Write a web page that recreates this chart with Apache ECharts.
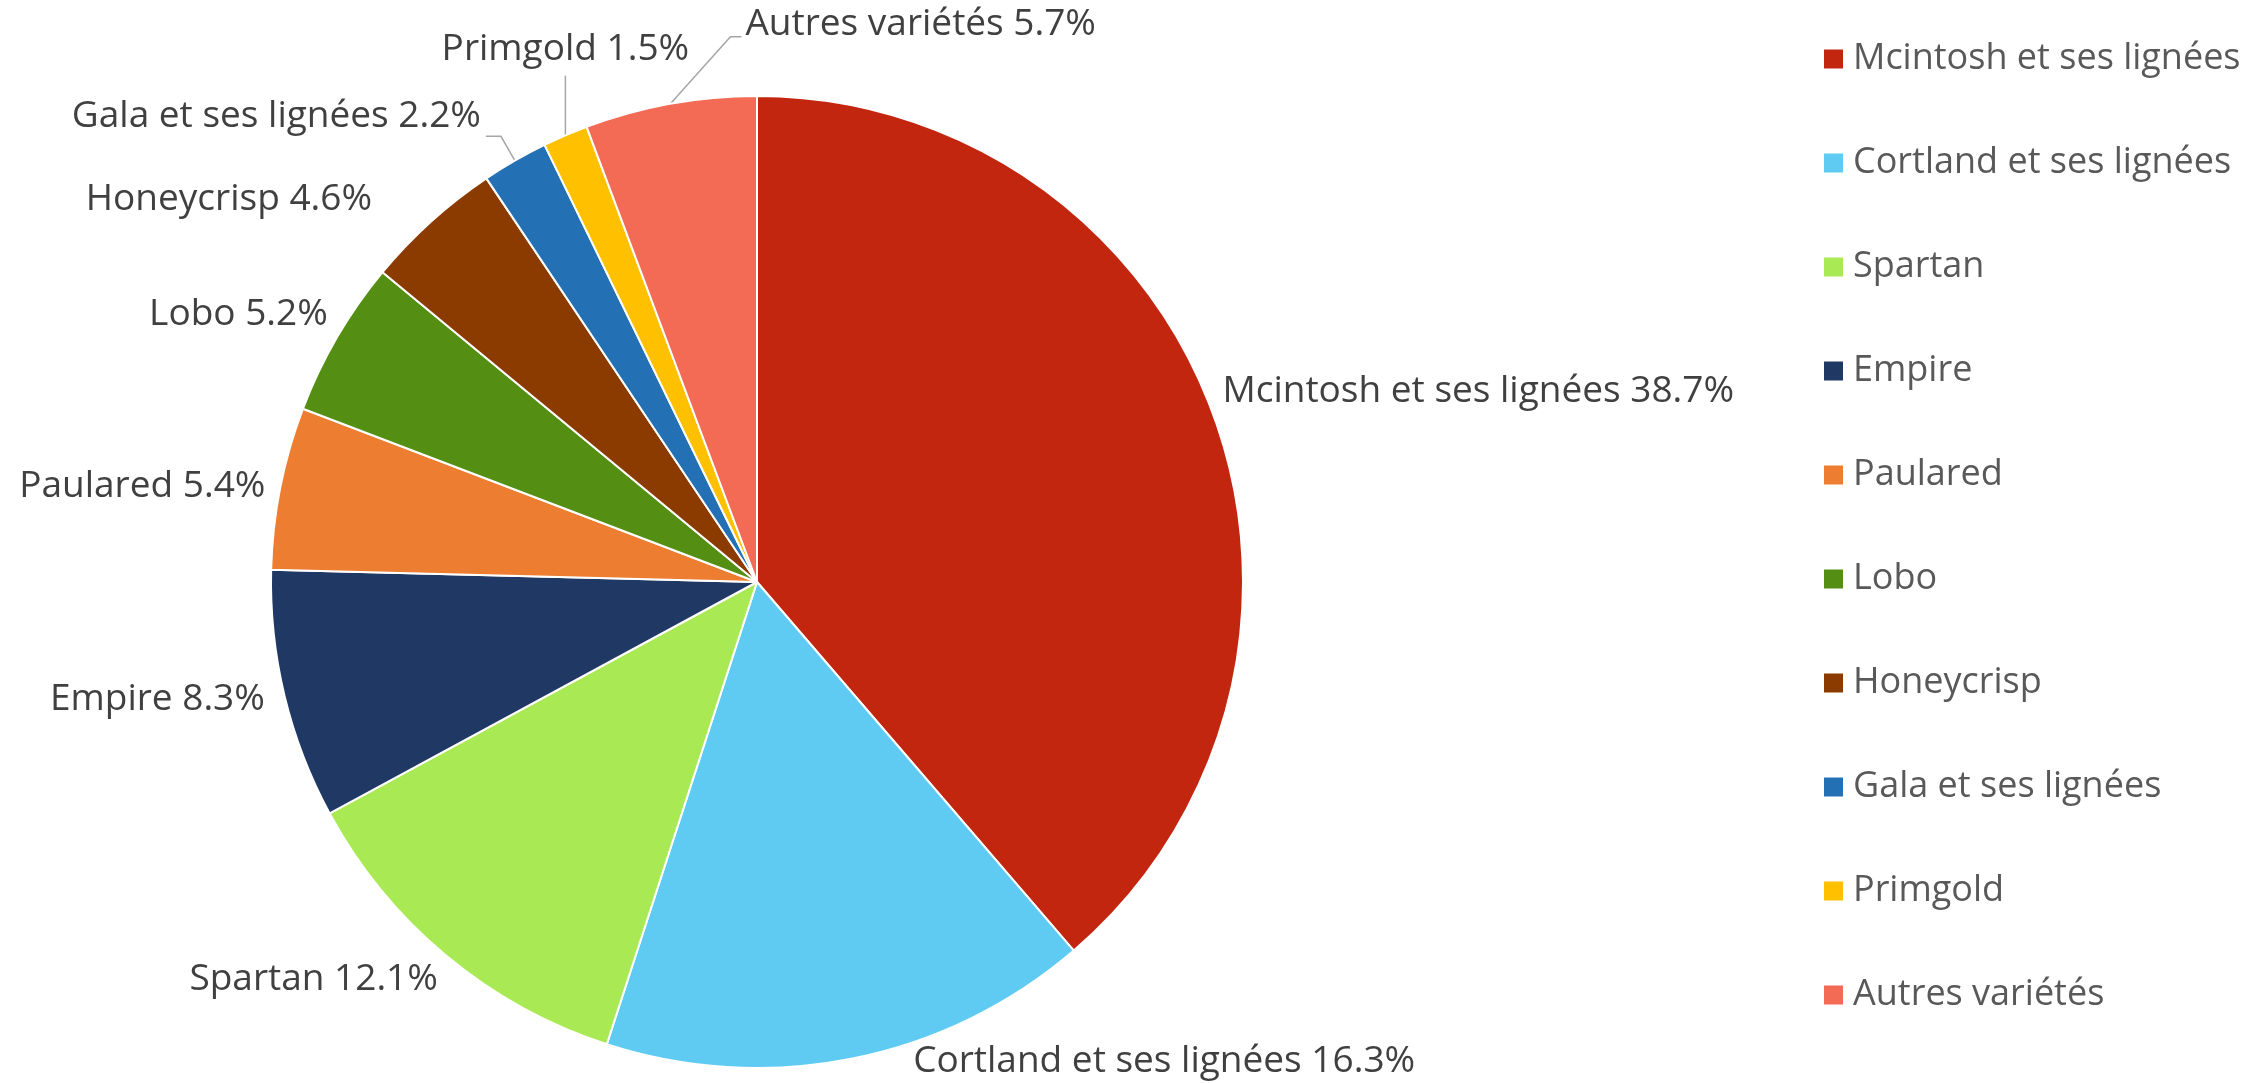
<!DOCTYPE html>
<html>
<head>
    <meta charset="utf-8">
    <title>Variétés de pommes</title>
    <script src="https://cdn.jsdelivr.net/npm/echarts@6/dist/echarts.min.js"></script>
    <style>html, body { margin: 0; padding: 0; background: #fff; }</style>
</head>
<body>
<div id="pie" style="width: 2263px; height: 1083px"></div>
<script type="text/javascript">
    // données
    var categories = ['Mcintosh et ses lignées', 'Cortland et ses lignées', 'Spartan', 'Empire', 'Paulared',
        'Lobo', 'Honeycrisp', 'Gala et ses lignées', 'Primgold', 'Autres variétés'];
    var shares = [38.7, 16.3, 12.1, 8.3, 5.4, 5.2, 4.6, 2.2, 1.5, 5.7];
    var colors = ['#C3260F', '#5FCBF3', '#A8E954', '#203864', '#ED7D31',
        '#548E13', '#8B3A00', '#2470B5', '#FFC000', '#F36A55'];

    // réglages des étiquettes (longueur des traits, alignement vertical)
    var lineLen = [5, 3, 5, 15, 10, 5, 3, 28, 65, 68];
    var lineLen2 = [0, 55, 0, 0, 0, 0, 52, 15, 0, 0];
    var vAlign = ['bottom', 'middle', 'top', 'middle', 'middle', 'bottom', 'bottom', 'bottom', 'bottom', 'middle'];
    var showLine = [false, false, false, false, false, false, false, true, true, true];

    var font = '"Open Sans", "Noto Sans", sans-serif';

    var pieData = [];
    for (var i = 0; i < categories.length; i++) {
        pieData.push({
            name: categories[i],
            value: shares[i],
            itemStyle: { color: colors[i] },
            labelLine: { show: showLine[i], length: lineLen[i], length2: lineLen2[i] }
        });
    }

    var myPie = echarts.init(document.getElementById('pie'));
    var option = {
        animation: false,
        legend: {
            orient: 'vertical',
            left: 1819,
            top: 34,
            icon: 'rect',
            itemWidth: 19,
            itemHeight: 19,
            itemGap: 64,
            itemStyle: { borderWidth: 0 },
            textStyle: { color: '#595959', fontSize: 36, lineHeight: 40, fontFamily: font, padding: [0, 0, 0, 5] },
            data: categories
        },
        series: [{
            type: 'pie',
            center: [757, 582],
            radius: 486,
            startAngle: 90,
            clockwise: true,
            avoidLabelOverlap: false,
            itemStyle: { borderColor: '#ffffff', borderWidth: 2 },
            emphasis: { disabled: true },
            label: {
                position: 'outside',
                color: '#404040',
                fontSize: 37,
                lineHeight: 40,
                fontFamily: font,
                distanceToLabelLine: 5,
                formatter: function (p) { return p.name + ' ' + p.value.toFixed(1) + '%'; }
            },
            labelLine: {
                lineStyle: { color: '#A6A6A6', width: 1.5 },
                minTurnAngle: 0
            },
            labelLayout: function (p) {
                var i = p.dataIndex;
                var pts = p.labelLinePoints;
                if (i === 8 && pts) {
                    // Primgold : trait vertical, étiquette centrée au-dessus
                    var top = pts[1][1];
                    return {
                        x: pts[0][0], y: top - 6, align: 'center', verticalAlign: 'bottom',
                        labelLinePoints: [pts[0], [pts[0][0], top]]
                    };
                }
                if (i === 9 && pts) {
                    // Autres variétés : trait vers la droite
                    var yTop = pts[1][1];
                    var bend = [pts[0][0] + 60, yTop];
                    var end = [bend[0] + 11, yTop];
                    return {
                        x: end[0] + 4, y: yTop - 12, align: 'left', verticalAlign: 'middle',
                        labelLinePoints: [pts[0], bend, end]
                    };
                }
                return { verticalAlign: vAlign[i] };
            },
            data: pieData
        }]
    };
    myPie.setOption(option);
</script>
</body>
</html>
